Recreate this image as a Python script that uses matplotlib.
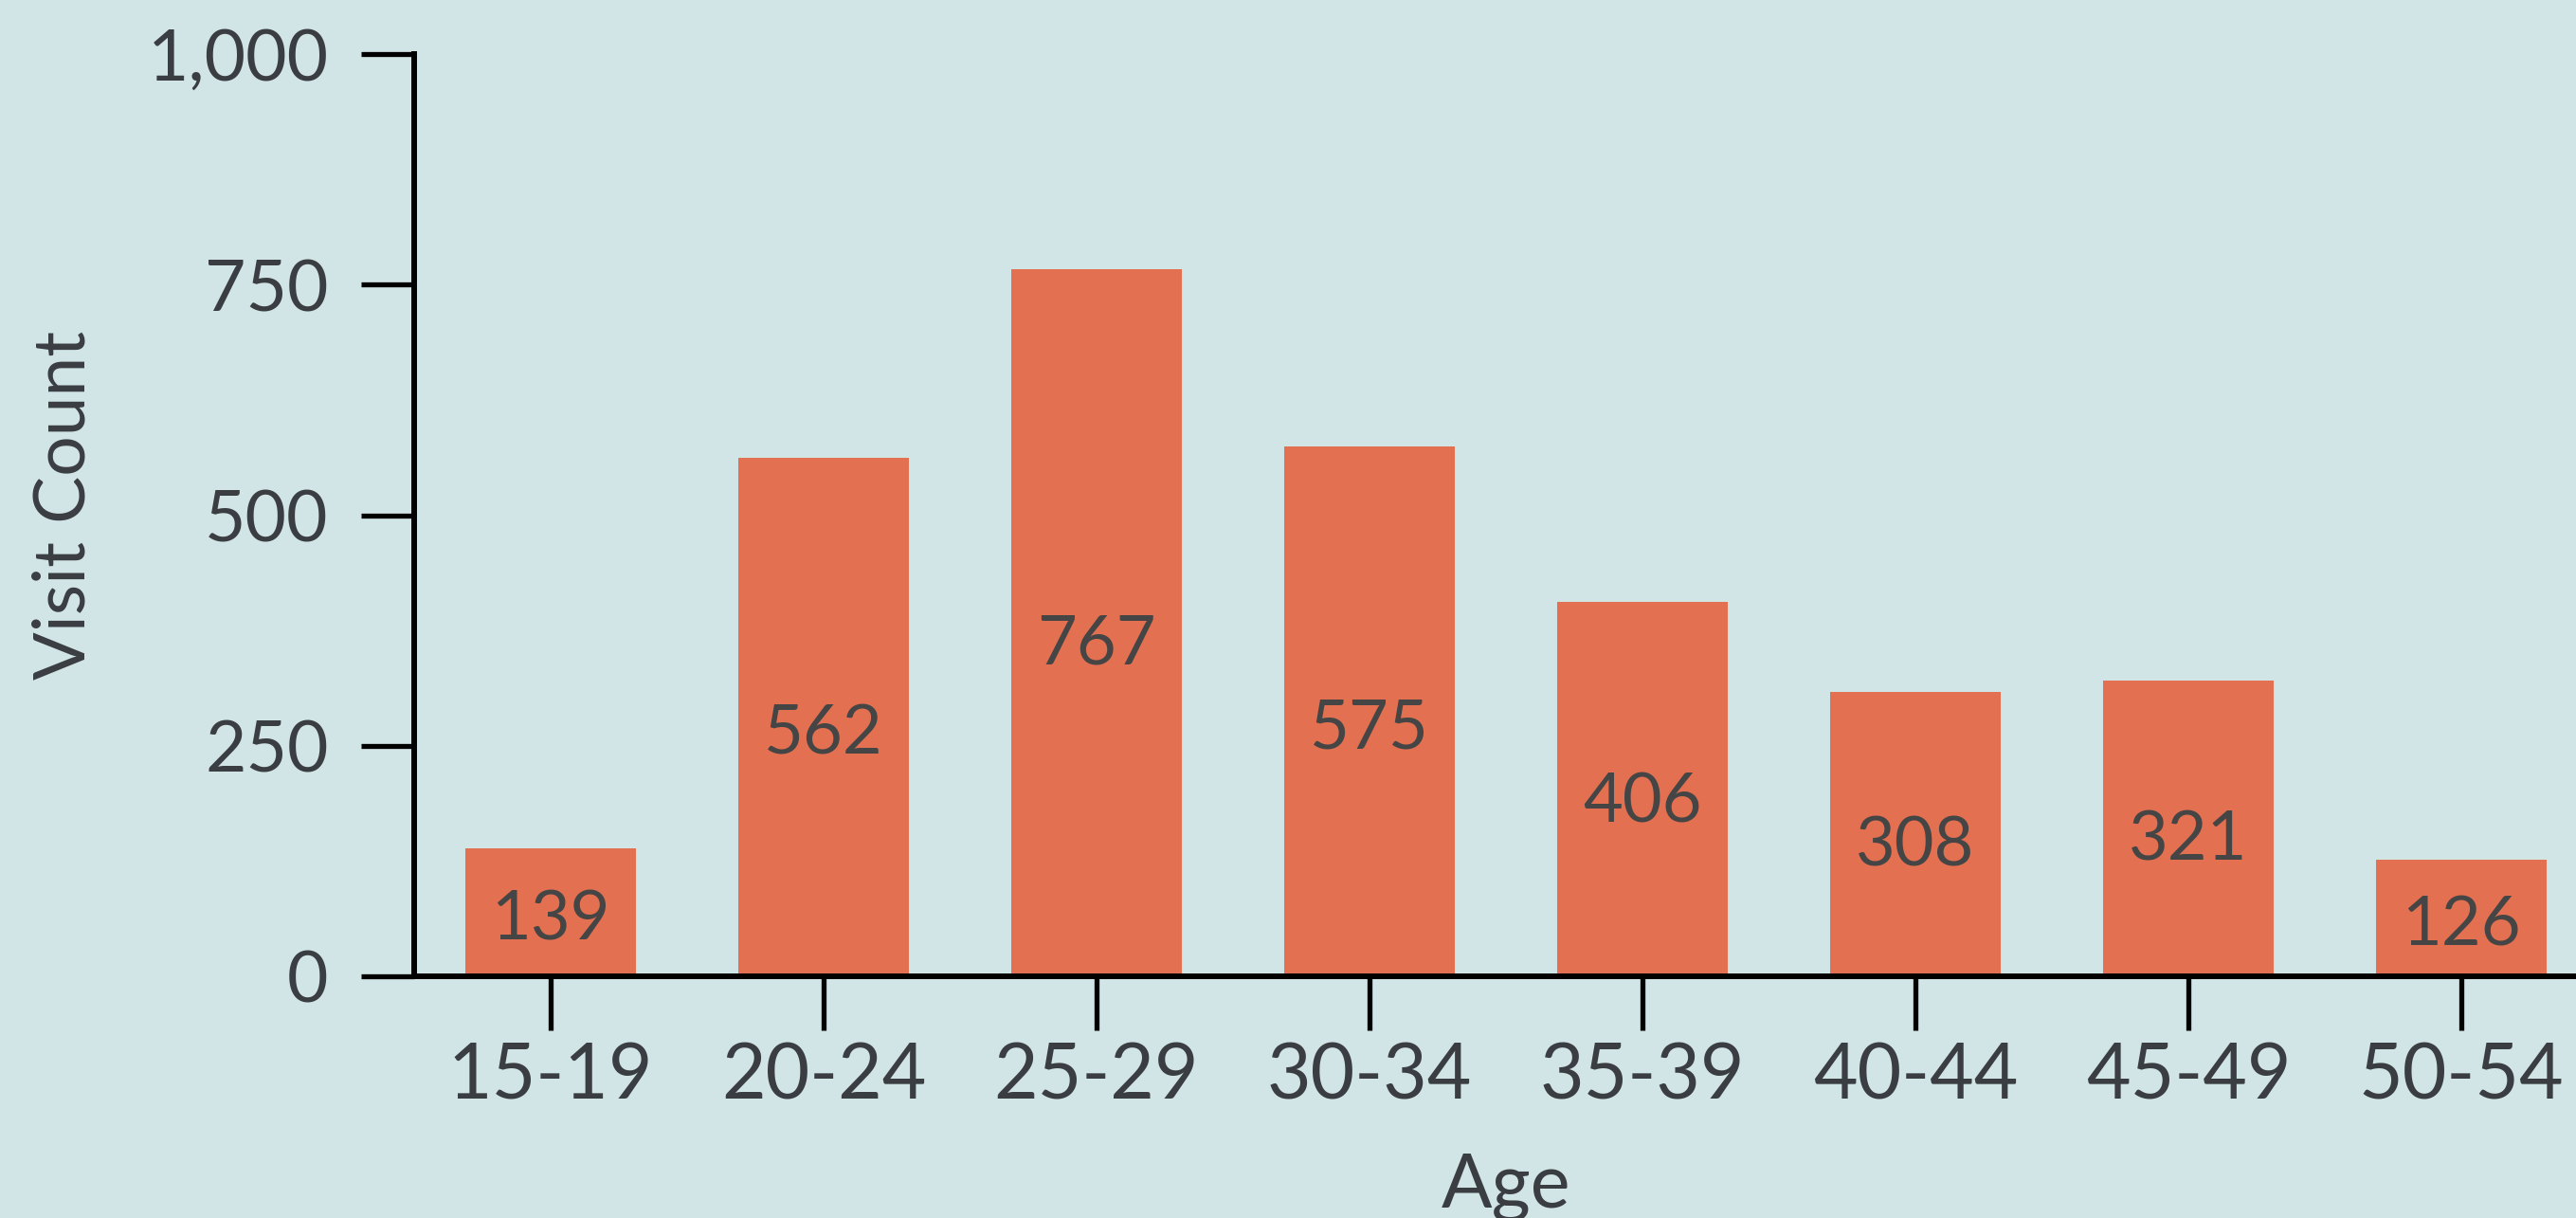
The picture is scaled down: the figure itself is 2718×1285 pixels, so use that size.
import matplotlib
matplotlib.use("Agg")
import matplotlib.pyplot as plt
from matplotlib.ticker import FuncFormatter

categories = ["15-19", "20-24", "25-29", "30-34", "35-39", "40-44", "45-49", "50-54"]
visits = [139, 562, 767, 575, 406, 308, 321, 126]
yticks = [0, 250, 500, 750, 1000]

BG = "#d1e4e6"
BAR = "#e37050"
TXT = "#3a3e42"
LBL = "#454545"

plt.rcParams['font.family'] = ['Lato', 'DejaVu Sans']

W, H = 2718, 1285
fig = plt.figure(figsize=(W / 100, H / 100), dpi=100, facecolor=BG)
# axes: left spine at x=437 px, zero line at y=1030 px, top (1000) at y=57 px
ax_left, ax_right, ax_top, ax_bottom = 437, 2741, 57, 1030
ax = fig.add_axes([ax_left / W, (H - ax_bottom) / H,
                   (ax_right - ax_left) / W, (ax_bottom - ax_top) / H])
ax.set_facecolor(BG)

x = list(range(len(categories)))
ax.bar(x, visits, width=0.625, color=BAR, zorder=2)

LBL_FS = 52
digit_h_pt = 0.717 * LBL_FS
LABEL_FRAC = 0.476  # labels sit just below the middle of each bar
for xi, v in zip(x, visits):
    ax.annotate(f"{v}", xy=(xi, v * LABEL_FRAC), xytext=(0, -digit_h_pt / 2),
                textcoords="offset points", ha="center", va="baseline",
                fontsize=LBL_FS, color=LBL, zorder=3)

ax.set_xlim(-0.5, 7.5)
ax.set_ylim(0, 1000)
ax.set_yticks(yticks)
ax.yaxis.set_major_formatter(FuncFormatter(lambda v, p: f"{int(v):,}"))
ax.set_xticks(x)
ax.set_xticklabels(categories)

for s in ["top", "right"]:
    ax.spines[s].set_visible(False)
for s in ["left", "bottom"]:
    ax.spines[s].set_linewidth(4.3)
    ax.spines[s].set_color("black")
    ax.spines[s].set_capstyle("projecting")

ax.tick_params(axis="y", length=40, width=3.8, color="black", labelsize=54,
               labelcolor=TXT, pad=25)
ax.tick_params(axis="x", length=41, width=3.8, color="black", labelsize=58,
               labelcolor=TXT, pad=9)

ax.set_ylabel("Visit Count", fontsize=54, color=TXT)
ax.set_xlabel("Age", fontsize=57, color=TXT)
ax.yaxis.set_label_coords((103 - ax_left) / (ax_right - ax_left),
                          (ax_bottom - 533) / (ax_bottom - ax_top))
ax.xaxis.set_label_coords(0.5, (ax_bottom - 1216) / (ax_bottom - ax_top))

fig.savefig("out.png", dpi=100, facecolor=BG)
